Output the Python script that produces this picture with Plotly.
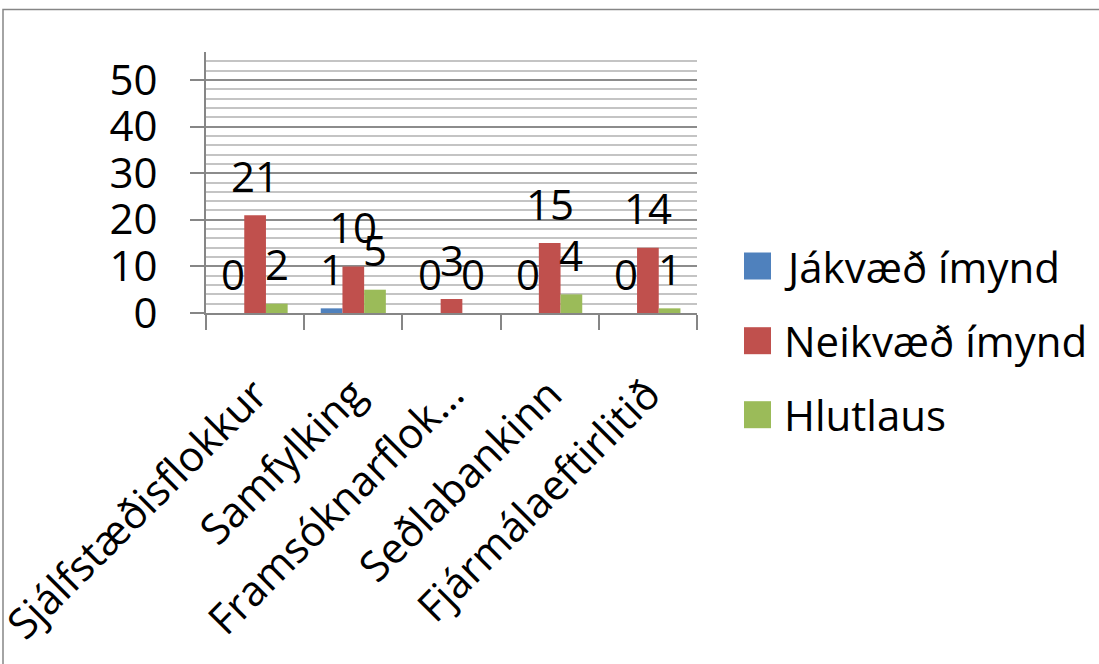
import plotly.graph_objects as go

categories = ["Sjálfstæðisflokkur", "Samfylking", "Framsóknarflokkur", "Seðlabankinn", "Fjármálaeftirlitið"]
tick_labels = ["Sjálfstæðisflokkur", "Samfylking", "Framsóknarflok…", "Seðlabankinn", "Fjármálaeftirlitið"]
series_names = ["Jákvæð ímynd", "Neikvæð ímynd", "Hlutlaus"]
jakvaed = [0, 1, 0, 0, 0]
neikvaed = [21, 10, 3, 15, 14]
hlutlaus = [2, 5, 0, 4, 1]
colors = ["#4F81BD", "#C0504D", "#9BBB59"]
series_values = [jakvaed, neikvaed, hlutlaus]

W, H = 1099, 664
L, R, T, B = 206, 1099 - 697, 52, 664 - 313
PW = W - L - R
PH = H - T - B
BARGAP = 0.337
FONT = "Open Sans"
FS = 42

def px_x(p):
    return (p - L) / PW

def px_y(p):
    return (H - B - p) / PH

fig = go.Figure()
for name, vals, c in zip(series_names, series_values, colors):
    fig.add_trace(go.Bar(x=categories, y=vals, name=name, marker=dict(color=c, line=dict(width=0)),
                         showlegend=False))

bar_px = PW / len(categories) * (1 - BARGAP) / 3
annotations = []
for i, vals in enumerate(series_values):
    for cat, v in zip(categories, vals):
        annotations.append(dict(x=cat, y=v, xref="x", yref="y", text=str(v), showarrow=False,
                                xshift=(i - 1) * bar_px, yshift=40, yanchor="middle", xanchor="center",
                                font=dict(family=FONT, size=FS, color="black")))

# custom legend
shapes = []
legend_centers = [266, 340.7, 414.7]
for name, c, cy in zip(series_names, colors, legend_centers):
    shapes.append(dict(type="rect", xref="paper", yref="paper",
                       x0=px_x(744), x1=px_x(771), y0=px_y(cy + 13.5), y1=px_y(cy - 13.5),
                       fillcolor=c, line=dict(width=0)))
    annotations.append(dict(x=px_x(782), y=px_y(cy), xref="paper", yref="paper", text=name,
                            showarrow=False, xanchor="left", yanchor="middle",
                            font=dict(family=FONT, size=FS, color="black")))

# chart area border (top and left visible)
shapes.append(dict(type="rect", xref="paper", yref="paper", x0=px_x(3), x1=px_x(1200),
                   y0=px_y(800), y1=px_y(9.5), line=dict(color="#868686", width=1.5),
                   fillcolor="rgba(0,0,0,0)", layer="below"))

fig.update_layout(
    width=W, height=H, autosize=False,
    margin=dict(l=L, r=R, t=T, b=B, pad=0, autoexpand=False),
    paper_bgcolor="white", plot_bgcolor="white",
    barmode="group", bargap=BARGAP, bargroupgap=0,
    showlegend=False,
    annotations=annotations, shapes=shapes,
    font=dict(family=FONT, size=FS, color="black"),
)
fig.update_xaxes(type="category", tickmode="array", tickvals=categories, ticktext=tick_labels,
                 tickangle=-45, tickson="boundaries", ticks="outside", ticklen=15, tickwidth=2,
                 tickcolor="#868686", showline=True, linecolor="#868686", linewidth=2,
                 showgrid=False, ticklabelstandoff=38, automargin=False,
                 tickfont=dict(family=FONT, size=FS, color="black"))
fig.update_yaxes(range=[0, 56], tickmode="array", tickvals=[0, 10, 20, 30, 40, 50],
                 ticks="outside", ticklen=14, tickwidth=2, tickcolor="#868686",
                 showline=True, linecolor="#868686", linewidth=2,
                 showgrid=True, gridcolor="#8c8c8c", gridwidth=2, zeroline=False,
                 minor=dict(dtick=2, tick0=0, showgrid=True, gridcolor="#c4c4c4", gridwidth=2, ticks=""),
                 ticklabelstandoff=24, automargin=False,
                 tickfont=dict(family=FONT, size=FS, color="black"))

fig.write_html("out.html", config={"displayModeBar": False},
               post_script="document.body.style.margin='0px';document.body.style.overflow='hidden';")
